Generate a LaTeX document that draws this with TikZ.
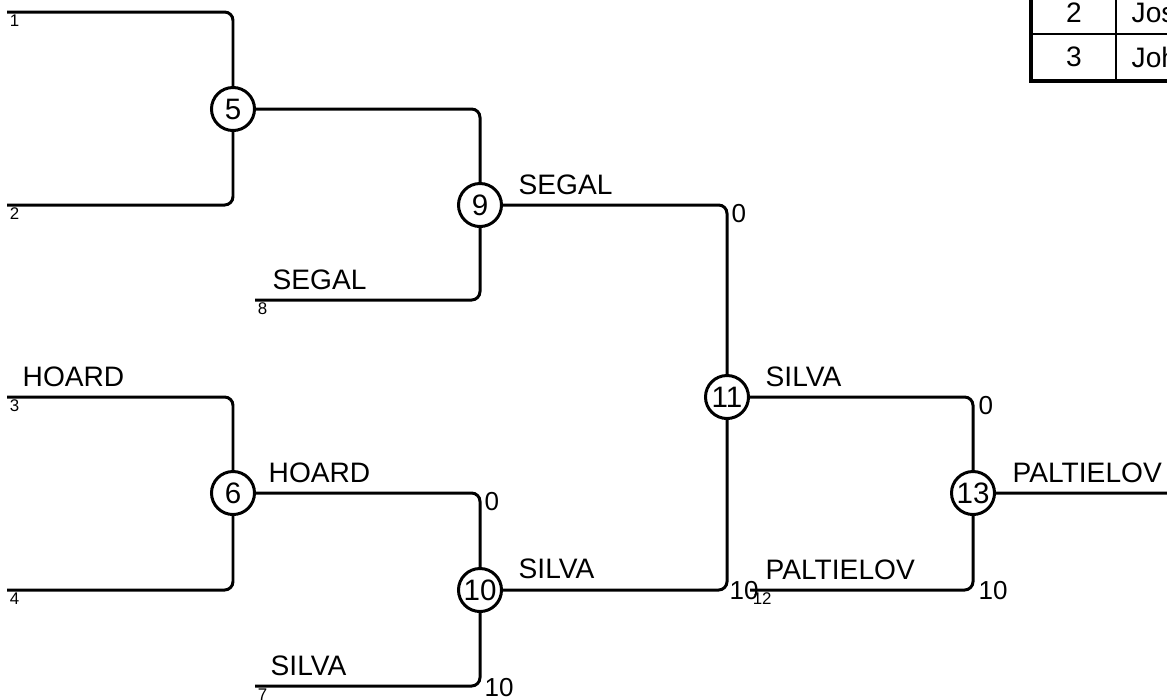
\documentclass[tikz,border=0pt]{standalone}
\usepackage{fontspec}
\setmainfont{Liberation Sans}
\usetikzlibrary{calc}

\tikzset{
    bline/.style = {line width=0.85pt, rounded corners=2.4pt},
    match/.style = {circle, draw, line width=0.85pt, minimum size=0.43cm, inner sep=0pt, font=\fontsize{8.4}{9}\selectfont},
    player/.style = {anchor=base west, inner sep=0pt, font=\fontsize{8}{9}\selectfont},
    seed/.style = {anchor=north west, inner sep=0.6pt, font=\fontsize{4.8}{5}\selectfont},
    score/.style = {anchor=west, inner sep=0pt, font=\fontsize{7.4}{8}\selectfont},
    cell/.style = {inner sep=0pt, font=\fontsize{8}{9}\selectfont}
}

\begin{document}
\begin{tikzpicture}[x=0.01cm, y=-0.01cm]
    \useasboundingbox (0,0) rectangle (1167,699);

    % Matches
    \node[match] (m5)  at (233,109) {5};
    \node[match] (m6)  at (233,493) {6};
    \node[match] (m9)  at (480,205) {9};
    \node[match] (m10) at (480,590) {10};
    \node[match] (m11) at (727,397) {11};
    \node[match] (m13) at (973,493) {13};

    % Entries
    \coordinate (e1)  at (7,12);
    \coordinate (e2)  at (7,205);
    \coordinate (e3)  at (7,397);
    \coordinate (e4)  at (7,590);
    \coordinate (e7)  at (255,686);
    \coordinate (e8)  at (255,300);
    \coordinate (e12) at (750,590);
    \coordinate (win) at (1175,493);

    \draw[bline]
    (e1) -| (m5)
    (e2) -| (m5)
    (e3) -| (m6)
    (e4) -| (m6)
    (m5) -| (m9)
    (e8) -| (m9)
    (m6) -| (m10)
    (e7) -| (m10)
    (m9) -| (m11)
    (m10) -| (m11)
    (m11) -| (m13)
    (e12) -| (m13)
    (m13) -- (win)
    ;

    % Seeds
    \node[seed] (s1)  at (e1)  {1};
    \node[seed] (s2)  at (e2)  {2};
    \node[seed] (s3)  at (e3)  {3};
    \node[seed] (s4)  at (e4)  {4};
    \node[seed] (s7)  at (e7)  {7};
    \node[seed] (s8)  at (e8)  {8};
    \node[seed] (s12) at (e12) {12};

    % Names
    \node[player] (n3)  at (22,386)   {HOARD};
    \node[player] (n8)  at (272,289)  {SEGAL};
    \node[player] (n7)  at (270,675)  {SILVA};
    \node[player] (n12) at (765,579)  {PALTIELOV};
    \node[player] (n9)  at (518,194)  {SEGAL};
    \node[player] (n6)  at (268,482)  {HOARD};
    \node[player] (n10) at (518,578)  {SILVA};
    \node[player] (n11) at (765,386)  {SILVA};
    \node[player] (n13) at (1012,482) {PALTIELOV};

    % Scores
    \node[score, anchor=north west] (p9)  at (731,204) {0};
    \node[score, anchor=north west] (p6)  at (484,492) {0};
    \node[score, anchor=north west] (p11) at (978,396) {0};
    \node[score] (p7)  at (484,688) {10};
    \node[score] (p10) at (729,591) {10};
    \node[score] (p12) at (978,591) {10};

    % Table
    \draw[line width=0.6pt]
    (1031,34) to (1200,34)
    (1116,-20) to (1116,81)
    ;
    \draw[line width=1.4pt]
    (1031,-20) to (1031,81) to (1200,81)
    ;
    \node[cell] (t2)  at (1074,13) {2};
    \node[cell] (t3)  at (1074,57) {3};
    \node[cell, anchor=west] (t2n) at (1131,13) {Jos};
    \node[cell, anchor=west] (t3n) at (1131,57) {Joh};
\end{tikzpicture}
\end{document}
